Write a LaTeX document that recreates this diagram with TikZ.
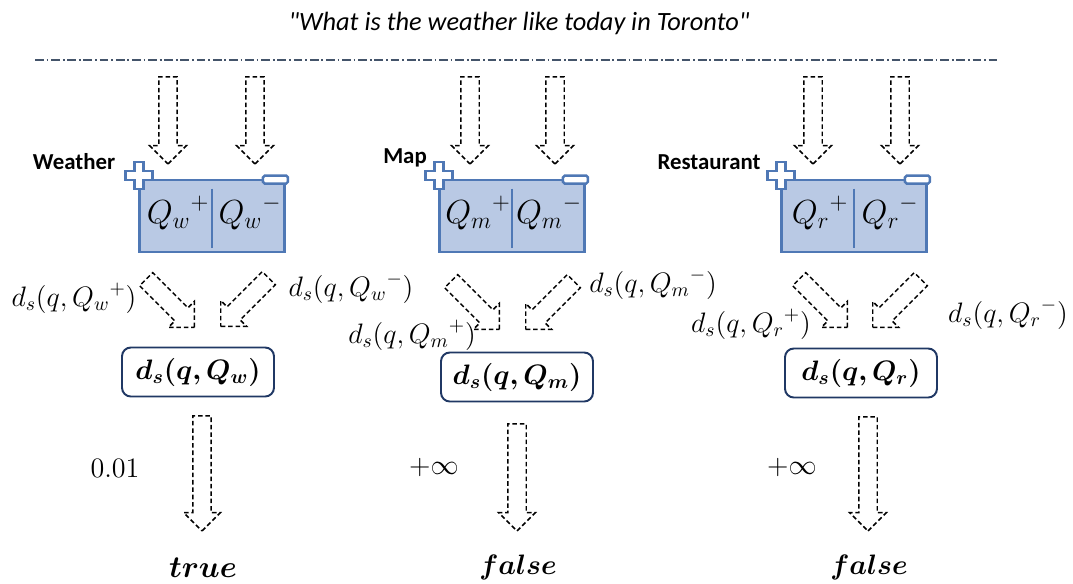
\RequirePackage{fix-cm}
\documentclass[tikz,border=0pt]{standalone}
\usepackage{amsmath,bm}
\usepackage{fontspec}
\newfontfamily\calibri{Carlito}
\usepackage{tikz}
\usetikzlibrary{positioning,shapes.arrows,calc}

\definecolor{cellfill}{RGB}{185,201,228}
\definecolor{cellline}{RGB}{79,120,181}
\definecolor{scoreline}{RGB}{32,56,100}
\definecolor{rulecol}{RGB}{68,84,106}

\newcommand{\mfont}{\fontsize{16}{19}\selectfont}

\begin{document}
\begin{tikzpicture}[x=0.02cm,y=-0.02cm,
  cell/.style={draw=cellline,fill=cellfill,line width=1.6pt,minimum width=2.9cm,
    minimum height=1.44cm,inner sep=0pt},
  terminal/.style={draw=cellline,fill=white,line width=1.4pt},
  score/.style={draw=scoreline,line width=1.1pt,rounded corners=5pt,
    minimum width=3.04cm,minimum height=0.98cm,font=\mfont},
  blockarrow/.style={single arrow,draw,dash pattern=on 2.6pt off 1.6pt,line width=0.85pt,
    inner xsep=0pt,inner ysep=0.17cm,minimum width=0.7cm,single arrow head extend=0.18cm,
    anchor=tip},
  down/.style={blockarrow,rotate=-90},
  tag/.style={font=\calibri\bfseries\fontsize{13}{15}\selectfont},
  lbl/.style={font=\mfont,inner sep=0pt},
  part/.style={font=\fontsize{19}{22}\selectfont,inner sep=0pt}]
\useasboundingbox (0,0) rectangle (1073,583);

\node[font=\calibri\itshape\fontsize{15}{18}\selectfont] (query) at (519,23)
  {"What is the weather like today in Toronto"};
\draw[rulecol,line width=0.9pt,dash pattern=on 5pt off 1.6pt on 1pt off 1.6pt]
  (35,60) coordinate (rulel) -- (1000,60) coordinate (ruler);

% the three query classes
\node[cell] (cw) at (212,216) {};
\node[cell] (cm) at (512,216) {};
\node[cell] (cr) at (854,216) {};
\foreach \c in {cw,cm,cr}{
  \draw[cellline,line width=1.6pt] ($(\c.north)+(0,10)$) -- ($(\c.south)+(0,-5)$);
  \draw[terminal,shift={(\c.north west)}] (-3.5,-16.5) -- (5.5,-16.5) -- (5.5,-7.5) -- (14.5,-7.5)
    -- (14.5,1.5) -- (5.5,1.5) -- (5.5,10.5) -- (-3.5,10.5) -- (-3.5,1.5) -- (-12.5,1.5)
    -- (-12.5,-7.5) -- (-3.5,-7.5) -- cycle;
  \draw[terminal,rounded corners=1pt,shift={(\c.north east)}] (-23,-3) rectangle (2,5);
}
\node[part] (qwp) at (178,213) {${Q_w}^{+}$};
\node[part] (qwn) at (250,213) {${Q_w}^{-}$};
\node[part] (qmp) at (478,213) {${Q_m}^{+}$};
\node[part] (qmn) at (549,213) {${Q_m}^{-}$};
\node[part] (qrp) at (820,213) {${Q_r}^{+}$};
\node[part] (qrn) at (890,213) {${Q_r}^{-}$};

\node[tag] (tw) at (74,162) {Weather};
\node[tag] (tm) at (405,158) {Map};
\node[tag] (tr) at (709,162) {Restaurant};

% incoming arrows
\node[down,minimum height=1.74cm] (aw1) at (168,165) {};
\node[down,minimum height=1.74cm] (aw2) at (255,165) {};
\node[down,minimum height=1.74cm] (am1) at (470,165) {};
\node[down,minimum height=1.74cm] (am2) at (555,165) {};
\node[down,minimum height=1.74cm] (ar1) at (813,165) {};
\node[down,minimum height=1.74cm] (ar2) at (900,165) {};

% distances to the positive and negative parts
\node[blockarrow,rotate=-45,minimum height=1.36cm] (dw1) at (195,328) {};
\node[blockarrow,rotate=-135,minimum height=1.36cm] (dw2) at (220,327) {};
\node[blockarrow,rotate=-45,minimum height=1.36cm] (dm1) at (500,330) {};
\node[blockarrow,rotate=-135,minimum height=1.36cm] (dm2) at (525,330) {};
\node[blockarrow,rotate=-45,minimum height=1.36cm] (dr1) at (848,328) {};
\node[blockarrow,rotate=-135,minimum height=1.36cm] (dr2) at (872,328) {};
\node[lbl] (lwp) at (74,298) {$d_s(q,{Q_w}^{+})$};
\node[lbl] (lwn) at (351,288) {$d_s(q,{Q_w}^{-})$};
\node[lbl] (lmp) at (412,335) {$d_s(q,{Q_m}^{+})$};
\node[lbl] (lmn) at (653,284) {$d_s(q,{Q_m}^{-})$};
\node[lbl] (lrp) at (751,324) {$d_s(q,{Q_r}^{+})$};
\node[lbl] (lrn) at (1008,314) {$d_s(q,{Q_r}^{-})$};

\node[score] (sw) at (198,372) {$\bm{d_s(q,Q_w)}$};
\node[score] (sm) at (517,377) {$\bm{d_s(q,Q_m)}$};
\node[score] (sr) at (861,373) {$\bm{d_s(q,Q_r)}$};

% decisions
\node[down,minimum height=2.3cm] (ow) at (202,532) {};
\node[down,minimum height=2.14cm] (om) at (517,532) {};
\node[down,minimum height=2.28cm] (or) at (868,532) {};
\node[lbl] (vw) at (115,468) {$0.01$};
\node[lbl] (vm) at (434,467) {$+\infty$};
\node[lbl] (vr) at (792,467) {$+\infty$};
\node[lbl,font=\fontsize{17.5}{20}\selectfont] (rw) at (203,568) {$\bm{true}$};
\node[lbl] (rm) at (518,567) {$\bm{false}$};
\node[lbl] (rr) at (869,567) {$\bm{false}$};
\end{tikzpicture}
\end{document}
